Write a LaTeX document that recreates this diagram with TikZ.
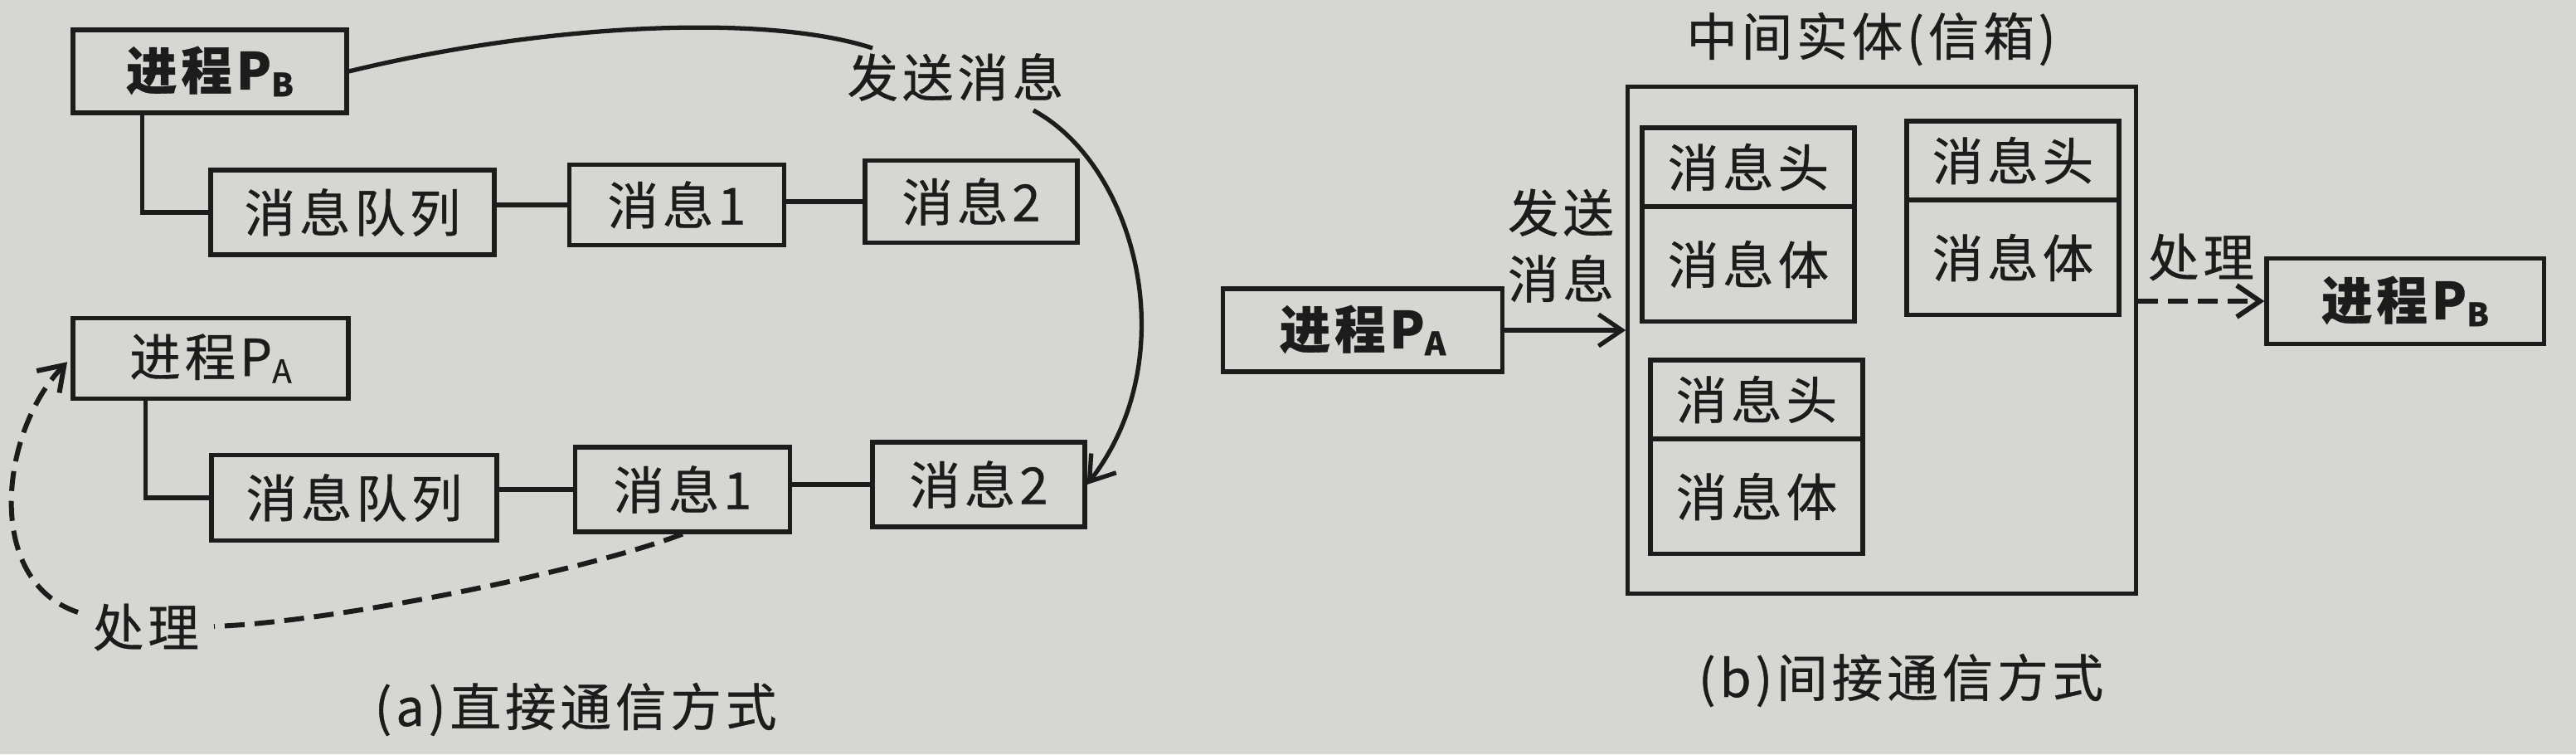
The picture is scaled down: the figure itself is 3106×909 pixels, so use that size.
\documentclass[tikz,border=0pt]{standalone}
\usepackage{fontspec}
\setmainfont{Noto Sans CJK SC}[LetterSpace=8, FakeBold=0.6]
\usetikzlibrary{arrows.meta,calc}
\definecolor{paper}{RGB}{214,214,210}
\definecolor{ink}{RGB}{28,28,28}
\newcommand\bodyfont{\fontsize{17.5}{22.7}\selectfont}
\newcommand\subx[1]{\raisebox{-0.25ex}{\fontsize{11}{11}\selectfont #1}}
\begin{document}
\begin{tikzpicture}[x=0.01cm,y=-0.01cm,
  every node/.style={font=\bodyfont, text=ink},
  box/.style={draw=ink, line width=1.5pt, inner sep=0pt, minimum height=1.0cm},
  boldbox/.style={box, font=\bodyfont\bfseries},
  conn/.style={draw=ink, line width=1.5pt},
  dashconn/.style={conn, line width=1.7pt, dash pattern=on 0.24cm off 0.12cm},
  barb/.style={-{Straight Barb[length=0.28cm, width=0.38cm]}}]
\fill[paper] (0,0) rectangle (3106,909);
\useasboundingbox (0,0) rectangle (3106,909);

% ---------- (a) direct communication ----------
\node[boldbox, minimum width=3.30cm] (pb) at (253,86) {进程P\subx{B}};
\node[box, minimum width=3.42cm, minimum height=1.02cm] (q1) at (425,256) {消息队列};
\node[box, minimum width=2.59cm, minimum height=0.97cm] (m1a) at (816,247) {消息1};
\node[box, minimum width=2.56cm, minimum height=0.99cm] (m2a) at (1171,243) {消息2};

\node[box, minimum width=3.32cm, minimum height=0.97cm] (pa) at (254,432) {进程P\subx{A}};
\node[box, minimum width=3.44cm, minimum height=1.03cm] (q2) at (427,600) {消息队列};
\node[box, minimum width=2.59cm, minimum height=1.02cm] (m1b) at (823,590) {消息1};
\node[box, minimum width=2.56cm, minimum height=1.02cm] (m2b) at (1180,584) {消息2};

\node (send) at (1152,93) {发送消息};
\node (proc) at (176,756) {处理};
\node (capa) at (694,855) {(a)直接通信方式};

\draw[conn] ($(pb.south west)+(86,0)$) |- (q1.west);
\draw[conn] (q1.east |- m1a.west) -- (m1a.west);
\draw[conn] (m1a.east |- m2a.west) -- (m2a.west);
\draw[conn] ($(pa.south west)+(90,0)$) |- (q2.west);
\draw[conn] (q2.east |- m1b.west) -- (m1b.west);
\draw[conn] (m1b.east |- m2b.west) -- (m2b.west);

\draw[conn] (pb.east) .. controls (650,30) and (920,15) .. ([shift={(-100,-35)}]send.center);
\draw[conn, barb] ([shift={(94,40)}]send.center) .. controls (1370,200) and (1430,430) .. (m2b.east);

\draw[dashconn] (m1b.south) .. controls (700,690) and (400,750) .. ([shift={(82,-1)}]proc.center);
\draw[dashconn, barb, shorten >=0.06cm] ([shift={(-82,-18)}]proc.center) .. controls (-20,700) and (0,520) .. (pa.west);

% ---------- (b) indirect communication ----------
\node (title) at (2256,47) {中间实体(信箱)};
\node[draw=ink, line width=1.5pt, minimum width=6.12cm, minimum height=6.10cm] (mb) at (2269,410) {};

\node[box, minimum width=2.56cm, minimum height=0.95cm] (hd1) at (2108,201.5) {消息头};
\node[box, minimum width=2.56cm, minimum height=1.38cm] (bd1) at (2108,318.5) {消息体};
\node[box, minimum width=2.56cm, minimum height=0.95cm] (hd2) at (2427,193.5) {消息头};
\node[box, minimum width=2.56cm, minimum height=1.38cm] (bd2) at (2427,310.5) {消息体};
\node[box, minimum width=2.56cm, minimum height=0.95cm] (hd3) at (2118,481.5) {消息头};
\node[box, minimum width=2.56cm, minimum height=1.38cm] (bd3) at (2118,598.5) {消息体};

\node[boldbox, minimum width=3.37cm] (pa2) at (1643,398) {进程P\subx{A}};
\node[boldbox, minimum width=3.34cm, minimum height=1.03cm] (pb2) at (2900,363) {进程P\subx{B}};

\node[align=center] (send2) at (1882,296) {发送\\消息};
\node (proc2) at (2654,310) {处理};
\node (capb) at (2292,820) {(b)间接通信方式};

\draw[conn, barb] (pa2.east) -- (pa2.east -| mb.west);
\draw[dashconn, barb] (mb.east |- pb2.west) -- (pb2.west);
\end{tikzpicture}
\end{document}
